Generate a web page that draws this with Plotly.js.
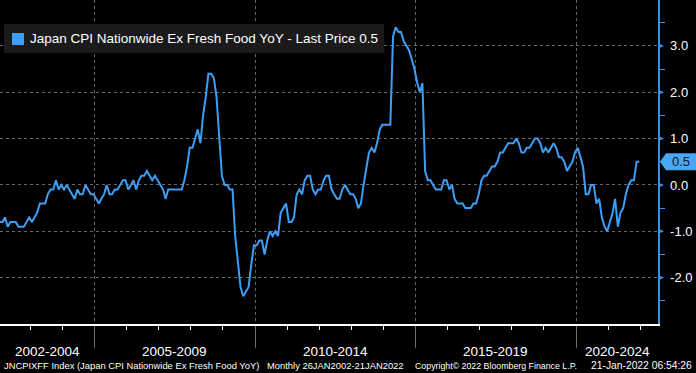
<!DOCTYPE html>
<html><head><meta charset="utf-8">
<script src="https://cdn.plot.ly/plotly-3.0.1.min.js"></script>
<style>html,body{margin:0;padding:0;background:#000;overflow:hidden}#chart{width:696px;height:373px}</style>
</head><body><div id="chart"></div>
<script>
// Japan CPI Nationwide Ex Fresh Food YoY (%), monthly, Jan..Dec
const cpi2002 = [-0.8,-0.8,-0.7,-0.9,-0.8,-0.8,-0.8,-0.9,-0.9,-0.9,-0.8,-0.7];
const cpi2003 = [-0.8,-0.7,-0.6,-0.4,-0.4,-0.4,-0.2,-0.1,-0.1,0.1,-0.1,0.0];
const cpi2004 = [-0.1,0.0,-0.1,-0.2,-0.3,-0.1,-0.2,-0.2,0.0,-0.1,-0.2,-0.2];
const cpi2005 = [-0.3,-0.4,-0.3,-0.2,0.0,-0.2,-0.2,-0.1,-0.1,0.0,0.1,0.1];
const cpi2006 = [-0.1,0.0,0.1,-0.1,0.1,0.2,0.2,0.3,0.2,0.1,0.2,0.1];
const cpi2007 = [0.0,-0.1,-0.3,-0.1,-0.1,-0.1,-0.1,-0.1,-0.1,0.1,0.4,0.8];
const cpi2008 = [0.8,1.0,1.2,0.9,1.5,1.9,2.4,2.4,2.3,1.9,1.0,0.2];
const cpi2009 = [0.0,0.0,-0.1,-0.1,-1.1,-1.7,-2.2,-2.4,-2.3,-2.2,-1.7,-1.3];
const cpi2010 = [-1.3,-1.2,-1.2,-1.5,-1.2,-1.0,-1.1,-1.0,-1.1,-0.6,-0.5,-0.4];
const cpi2011 = [-0.8,-0.8,-0.7,-0.2,-0.1,-0.2,0.1,0.2,0.2,-0.1,-0.2,-0.1];
const cpi2012 = [-0.1,0.1,0.2,0.2,-0.1,-0.2,-0.3,-0.3,-0.1,0.0,-0.1,-0.2];
const cpi2013 = [-0.2,-0.3,-0.5,-0.4,0.0,0.4,0.7,0.8,0.7,0.9,1.2,1.3];
const cpi2014 = [1.3,1.3,1.3,3.2,3.4,3.3,3.3,3.1,3.0,2.9,2.7,2.5];
const cpi2015 = [2.2,2.0,2.2,0.3,0.1,0.1,0.0,-0.1,-0.1,-0.1,0.1,0.1];
const cpi2016 = [-0.1,0.0,-0.3,-0.4,-0.4,-0.4,-0.5,-0.5,-0.5,-0.4,-0.4,-0.2];
const cpi2017 = [0.1,0.2,0.2,0.3,0.4,0.4,0.5,0.7,0.7,0.8,0.9,0.9];
const cpi2018 = [0.9,1.0,0.9,0.7,0.7,0.8,0.8,0.9,1.0,1.0,0.9,0.7];
const cpi2019 = [0.8,0.7,0.8,0.9,0.8,0.6,0.6,0.5,0.3,0.4,0.5,0.7];
const cpi2020 = [0.8,0.6,0.4,-0.2,-0.2,0.0,0.0,-0.4,-0.3,-0.7,-0.9,-1.0];
const cpi2021 = [-0.8,-0.6,-0.3,-0.9,-0.6,-0.5,-0.2,0.0,0.1,0.1,0.5,0.5];

const years = [2002,2003,2004,2005,2006,2007,2008,2009,2010,2011,2012,2013,2014,2015,2016,2017,2018,2019,2020,2021];
const yearly = [cpi2002,cpi2003,cpi2004,cpi2005,cpi2006,cpi2007,cpi2008,cpi2009,cpi2010,cpi2011,cpi2012,cpi2013,cpi2014,cpi2015,cpi2016,cpi2017,cpi2018,cpi2019,cpi2020,cpi2021];

const periodLabels = ["2002-2004","2005-2009","2010-2014","2015-2019","2020-2024"];
const periodStarts = ["2002-01-01","2005-01-01","2010-01-01","2015-01-01","2020-01-01"];
const periodEnds   = ["2005-01-01","2010-01-01","2015-01-01","2020-01-01","2025-01-01"];
const yTicks = [-2,-1,0,1,2,3];
const yTickText = ["-2.0","-1.0","0.0","1.0","2.0","3.0"];
const yMinor = [-2.5,-1.5,-0.5,0.5,1.5,2.5,3.5];
const yearTicks = ["2003-01-01","2004-01-01","2005-01-01","2006-01-01","2007-01-01","2008-01-01","2009-01-01","2010-01-01","2011-01-01","2012-01-01","2013-01-01","2014-01-01","2015-01-01","2016-01-01","2017-01-01","2018-01-01","2019-01-01","2020-01-01","2021-01-01","2022-01-01"];

const seriesName = "Japan CPI Nationwide Ex Fresh Food YoY";
const footerA = "JNCPIXFF Index (Japan CPI Nationwide Ex Fresh Food YoY)";
const footerB = "Monthly 26JAN2002-21JAN2022";
const footerC = "Copyright\u00a9 2022 Bloomberg Finance L.P.";
const footerD = "21-Jan-2022 06:54:26";

const xRange = ["2002-01-22","2022-07-21"];
const yRange = [-3.0, 3.99];

// build series
const dates = [], vals = [];
years.forEach((y,i)=>{
  yearly[i].forEach((v,m)=>{
    dates.push(y + "-" + String(m+1).padStart(2,"0") + "-20");
    vals.push(v);
  });
});
const last = vals[vals.length-1];

const W = 696, H = 373, ML = 0, MR = 38, MT = 0, MB = 49;
const PW = W-ML-MR, PH = H-MT-MB;
const px = x => (x-ML)/PW;          // pixel -> paper x
const py = y => (H-MB-y)/PH;        // pixel -> paper y
const unitsPerPx = (yRange[1]-yRange[0])/PH;

const BLUE = "#3d9ef5";
const AXBLUE = "#3a8ee6";
const FONT = "Liberation Sans, Arial, sans-serif";

const shapes = [];
// triangle markers on labelled y ticks
yTicks.forEach(v=>{
  const h = 2.8*unitsPerPx;
  shapes.push({type:"path", xref:"paper", yref:"y",
    path:`M 1 ${v-h} L ${1+6/PW} ${v} L 1 ${v+h} Z`,
    fillcolor:AXBLUE, line:{width:0}});
});
// last price tag
{
  const h = 8.5*unitsPerPx;
  const x0 = 1+2/PW, x1 = 1+8/PW, x2 = 1+38/PW;
  shapes.push({type:"path", xref:"paper", yref:"y",
    path:`M ${x0} ${last} L ${x1} ${last+h} L ${x2} ${last+h} L ${x2} ${last-h} L ${x1} ${last-h} Z`,
    fillcolor:"#4aa6f7", line:{width:0}});
}
// legend box
shapes.push({type:"rect", xref:"paper", yref:"paper", x0:px(4), x1:px(384), y0:py(53), y1:py(24),
  fillcolor:"#1a1a1a", line:{width:0}, layer:"above"});
shapes.push({type:"rect", xref:"paper", yref:"paper", x0:px(12), x1:px(24), y0:py(45), y1:py(33),
  fillcolor:BLUE, line:{width:0}, layer:"above"});

const annotations = [];
// period labels centred in the visible part of each period
const t0 = new Date(xRange[0]).getTime(), t1 = new Date(xRange[1]).getTime();
periodLabels.forEach((lab,i)=>{
  const a = Math.max(new Date(periodStarts[i]).getTime(), t0);
  const b = Math.min(new Date(periodEnds[i]).getTime(), t1);
  const mid = new Date((a+b)/2).toISOString().slice(0,10);
  annotations.push({xref:"x", yref:"paper", x:mid, y:py(351), text:lab, showarrow:false,
    xanchor:"center", yanchor:"middle", font:{family:FONT, size:13.5, color:"#ffffff"}});
});
annotations.push({xref:"paper", yref:"paper", x:px(28), y:py(39), text:seriesName + " - Last Price " + last.toFixed(1),
  showarrow:false, xanchor:"left", yanchor:"middle", font:{family:FONT, size:13.5, color:"#ffffff"}});
annotations.push({xref:"paper", yref:"y", x:1+23/PW, y:last, text:last.toFixed(1), showarrow:false,
  xanchor:"center", yanchor:"middle", font:{family:FONT, size:13, color:"#0b1a2a"}});
const foot = (text, x, anchor, size) => annotations.push({xref:"paper", yref:"paper", x:px(x), y:py(366), text:text,
  showarrow:false, xanchor:anchor, yanchor:"middle", font:{family:FONT, size:size, color:"#ffffff"}});
foot(footerA, 2, "left", 9.4);
foot(footerB, 265, "left", 9.4);
foot(footerC, 413, "left", 8.8);
foot(footerD, 694, "right", 10.3);

const trace = {x:dates, y:vals, type:"scatter", mode:"lines", line:{color:BLUE, width:2}, hoverinfo:"skip", showlegend:false};

const layout = {
  width:W, height:H, margin:{l:ML, r:MR, t:MT, b:MB, pad:0},
  paper_bgcolor:"#000000", plot_bgcolor:"#000000", showlegend:false,
  xaxis:{type:"date", range:xRange, fixedrange:true,
    tickmode:"array", tickvals:periodStarts.slice(1), showticklabels:false,
    ticks:"outside", ticklen:22, tickwidth:1, tickcolor:"#707070",
    showgrid:true, gridcolor:"#666666", griddash:"dot", gridwidth:1,
    showline:true, linecolor:"#ffffff", linewidth:1.5, zeroline:false,
    minor:{tickmode:"array", tickvals:yearTicks, ticks:"outside", ticklen:4, tickwidth:1, tickcolor:"#ffffff", showgrid:false}},
  yaxis:{side:"right", range:yRange, fixedrange:true,
    tickmode:"array", tickvals:yTicks, ticktext:yTickText,
    ticks:"outside", ticklen:8, tickcolor:"rgba(0,0,0,0)",
    tickfont:{family:FONT, size:13, color:"#ffffff"},
    showgrid:true, gridcolor:"#666666", griddash:"dot", gridwidth:1,
    showline:true, linecolor:AXBLUE, linewidth:1.5, zeroline:false,
    minor:{tickmode:"array", tickvals:yMinor, ticks:"outside", ticklen:5, tickwidth:1, tickcolor:AXBLUE, showgrid:false}},
  shapes:shapes, annotations:annotations
};
Plotly.newPlot("chart", [trace], layout, {staticPlot:true, displayModeBar:false});
</script>
</body></html>
